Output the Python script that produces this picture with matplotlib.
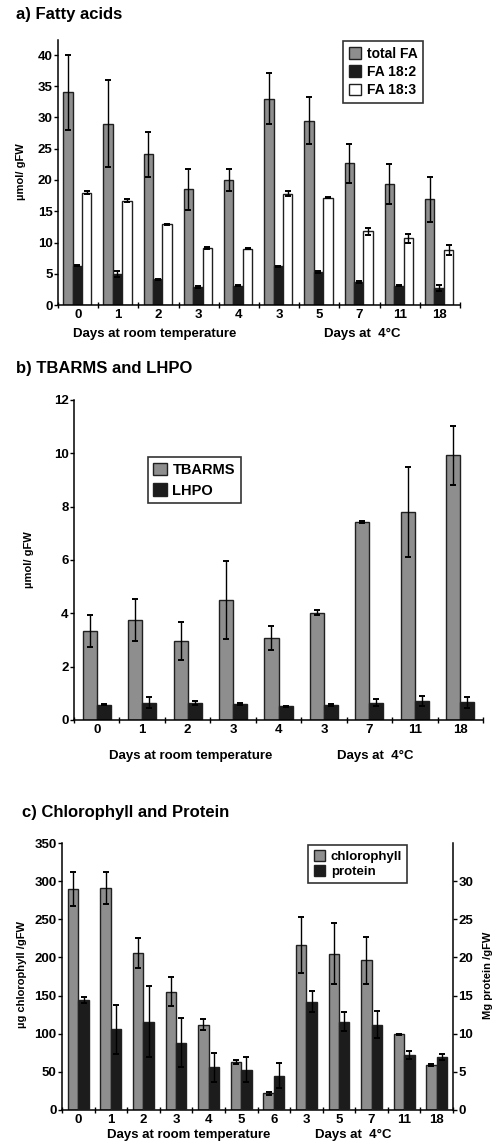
import matplotlib

matplotlib.use("Agg")
import matplotlib.pyplot as plt
import numpy as np
from matplotlib.patches import Patch

plt.rcParams["font.family"] = ["Liberation Sans", "DejaVu Sans"]
plt.rcParams["font.weight"] = "bold"

W, H = 495, 1142

# ---------------------------------------------------------------------------
# Data
# ---------------------------------------------------------------------------

# a) Fatty acids
a_days = ["0", "1", "2", "3", "4", "3", "5", "7", "11", "18"]
total_fa = [34.0, 29.0, 24.1, 18.5, 20.0, 33.0, 29.5, 22.7, 19.4, 16.9]
total_fa_err = [6.0, 7.0, 3.6, 3.3, 1.8, 4.1, 3.8, 3.1, 3.2, 3.6]
fa_182 = [6.3, 5.0, 4.1, 2.9, 3.1, 6.2, 5.3, 3.7, 3.1, 2.7]
fa_182_err = [0.1, 0.5, 0.1, 0.1, 0.1, 0.1, 0.1, 0.1, 0.1, 0.5]
fa_183 = [18.0, 16.7, 12.9, 9.1, 9.0, 17.8, 17.2, 11.8, 10.7, 8.8]
fa_183_err = [0.2, 0.2, 0.1, 0.2, 0.1, 0.4, 0.1, 0.6, 0.7, 0.8]

# b) TBARMS and LHPO
b_days = ["0", "1", "2", "3", "4", "3", "7", "11", "18"]
tbarms = [3.35, 3.75, 2.97, 4.5, 3.07, 4.03, 7.42, 7.8, 9.92]
tbarms_err = [0.6, 0.78, 0.72, 1.45, 0.45, 0.1, 0.05, 1.7, 1.1]
lhpo = [0.58, 0.65, 0.65, 0.61, 0.51, 0.56, 0.64, 0.72, 0.66]
lhpo_err = [0.03, 0.2, 0.07, 0.03, 0.02, 0.03, 0.13, 0.18, 0.2]

# c) Chlorophyll and protein
c_days = ["0", "1", "2", "3", "4", "5", "6", "3", "5", "7", "11", "18"]
chlorophyll = [290, 291, 206, 155, 112, 63, 22, 216, 205, 196, 99, 59]
chlorophyll_err = [22, 21, 20, 19, 7, 3, 2, 37, 40, 31, 1, 1]
protein = [14.4, 10.6, 11.6, 8.8, 5.6, 5.3, 4.5, 14.2, 11.6, 11.2, 7.2, 7.0]
protein_err = [0.4, 3.2, 4.6, 3.2, 1.9, 1.6, 1.6, 1.4, 1.3, 1.8, 0.5, 0.4]

GREY = "#8e8e8e"
DARK = "#1c1c1c"
EDGE = "#202020"


def px_axes(fig, x0, x1, y0, y1):
    """Add axes from pixel box (x0..x1, top y0..bottom y1)."""
    return fig.add_axes([x0 / W, 1 - y1 / H, (x1 - x0) / W, (y1 - y0) / H])


def fig_text(fig, x, y, s, **kw):
    fig.text(x / W, 1 - y / H, s, **kw)


def bars(ax, x, vals, errs, width, color):
    ax.bar(x, vals, width, color=color, edgecolor=EDGE, linewidth=1.0, zorder=2)
    ax.errorbar(x, vals, yerr=errs, fmt="none", ecolor="black", elinewidth=1.0,
                capsize=2.2, capthick=1.4, zorder=3)


def style_axes(ax, labels, yticks):
    n = len(labels)
    ax.set_xlim(-0.5, n - 0.5)
    ax.set_xticks(np.arange(n))
    ax.set_xticklabels(labels, fontsize=9.5, fontweight="bold")
    ax.set_xticks(np.arange(n + 1) - 0.5, minor=True)
    ax.tick_params(axis="x", which="major", length=0, pad=3)
    ax.tick_params(axis="x", which="minor", length=4, direction="inout", width=1)
    ax.set_yticks(yticks)
    ax.tick_params(axis="y", length=3, width=1, labelsize=9.5, pad=1)
    for lab in ax.get_yticklabels():
        lab.set_fontweight("bold")
    for side in ("top", "right"):
        ax.spines[side].set_visible(False)
    for side in ("left", "bottom"):
        ax.spines[side].set_linewidth(1.1)


def legend(ax, labels, colors, anchor, fontsize=9.5, spacing=0.3):
    handles = [Patch(facecolor=c, edgecolor=EDGE, linewidth=1) for c in colors]
    leg = ax.legend(handles, labels, loc="upper left", bbox_to_anchor=anchor,
                    fontsize=fontsize, frameon=True, fancybox=False,
                    handlelength=0.9, handleheight=0.9, handletextpad=0.4,
                    borderpad=0.4, labelspacing=spacing, borderaxespad=0)
    leg.get_frame().set_edgecolor("black")
    leg.get_frame().set_linewidth(1.2)
    for t in leg.get_texts():
        t.set_fontweight("bold")


def group_labels(fig, y, x_rt, x_cold):
    kw = dict(fontsize=9.5, fontweight="bold", ha="center", va="baseline")
    fig_text(fig, x_rt, y, "Days at room temperature", **kw)
    fig_text(fig, x_cold, y, "Days at  4°C", **kw)


fig = plt.figure(figsize=(W / 100, H / 100), dpi=100)

# ---------------------------------------------------------------------------
# a) Fatty acids
# ---------------------------------------------------------------------------
ax_a = px_axes(fig, 58, 460, 40, 305)
x = np.arange(len(a_days))
w = 0.235
bars(ax_a, x - w - 0.02, total_fa, total_fa_err, w, GREY)
bars(ax_a, x - 0.02, fa_182, fa_182_err, w, DARK)
bars(ax_a, x + w - 0.02, fa_183, fa_183_err, w, "white")
ax_a.set_ylim(0, 42.4)
style_axes(ax_a, a_days, np.arange(0, 41, 5))
legend(ax_a, ["total FA", "FA 18:2", "FA 18:3"], [GREY, DARK, "white"],
       (0.71, 0.995), fontsize=10, spacing=0.3)
fig_text(fig, 16, 15, "a) Fatty acids", fontsize=12, fontweight="bold", va="center")
fig_text(fig, 21, 172, "µmol/ gFW", fontsize=8, fontweight="bold", rotation=90,
         ha="center", va="center")
group_labels(fig, 337, 155, 362)

# ---------------------------------------------------------------------------
# b) TBARMS and LHPO
# ---------------------------------------------------------------------------
ax_b = px_axes(fig, 74, 483, 400, 720)
x = np.arange(len(b_days))
w = 0.31
bars(ax_b, x - w / 2, tbarms, tbarms_err, w, GREY)
bars(ax_b, x + w / 2, lhpo, lhpo_err, w, DARK)
ax_b.set_ylim(0, 12)
style_axes(ax_b, b_days, np.arange(0, 13, 2))
legend(ax_b, ["TBARMS", "LHPO"], [GREY, DARK], (0.18, 0.822),
       fontsize=10.5, spacing=0.45)
fig_text(fig, 16, 369, "b) TBARMS and LHPO", fontsize=12, fontweight="bold",
         va="center")
fig_text(fig, 29, 560, "µmol/ gFW", fontsize=8, fontweight="bold", rotation=90,
         ha="center", va="center")
group_labels(fig, 759, 191, 375)

# ---------------------------------------------------------------------------
# c) Chlorophyll and Protein
# ---------------------------------------------------------------------------
ax_c = px_axes(fig, 62, 453, 843, 1110)
ax_p = ax_c.twinx()
x = np.arange(len(c_days))
w = 0.32
bars(ax_c, x - w / 2, chlorophyll, chlorophyll_err, w, GREY)
bars(ax_p, x + w / 2, protein, protein_err, w, DARK)
ax_c.set_ylim(0, 350)
ax_p.set_ylim(0, 35)
style_axes(ax_c, c_days, np.arange(0, 351, 50))
ax_p.set_yticks(np.arange(0, 31, 5))
ax_p.tick_params(axis="y", length=3, width=1, labelsize=9.5, pad=1)
for lab in ax_p.get_yticklabels():
    lab.set_fontweight("bold")
ax_p.spines["top"].set_visible(False)
ax_p.spines["left"].set_visible(False)
ax_p.spines["bottom"].set_visible(False)
ax_p.spines["right"].set_linewidth(1.1)
legend(ax_p, ["chlorophyll", "protein"], [GREY, DARK], (0.63, 0.993),
       fontsize=9.5, spacing=0.15)
fig_text(fig, 22, 812, "c) Chlorophyll and Protein", fontsize=12,
         fontweight="bold", va="center")
fig_text(fig, 22, 975, "µg chlorophyll /gFW", fontsize=8, fontweight="bold",
         rotation=90, ha="center", va="center")
fig_text(fig, 488, 975, "Mg protein /gFW", fontsize=8, fontweight="bold",
         rotation=90, ha="center", va="center")
group_labels(fig, 1138, 189, 353)

fig.savefig("out.png", dpi=100)
plt.close(fig)
